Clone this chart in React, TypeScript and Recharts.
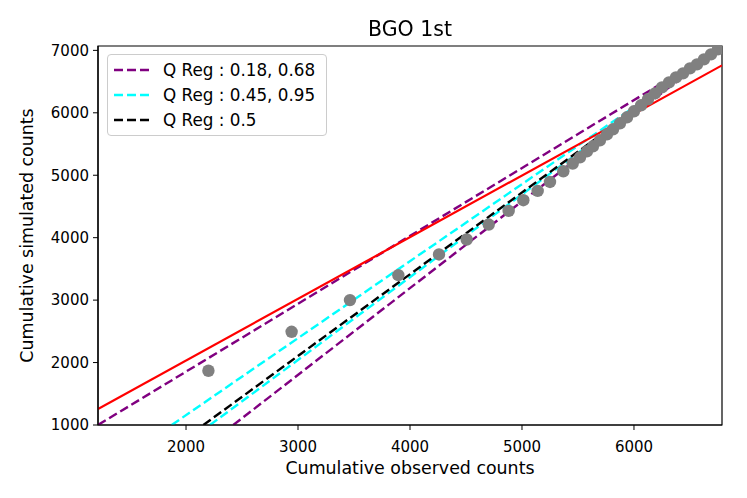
import React from 'react';
import { ComposedChart, Line, Scatter, XAxis, YAxis, ReferenceArea } from 'recharts';

// Gray points: cumulative observed (x) vs cumulative simulated (y)
const observed = [
  2200, 2943, 3464, 3896, 4259, 4506, 4703, 4881, 5012, 5140, 5250, 5369, 5453,
  5518, 5580, 5634, 5696, 5759, 5813, 5875, 5938, 6000, 6063, 6125, 6188, 6250,
  6313, 6375, 6438, 6500, 6563, 6625, 6688, 6750,
];
const simulated = [
  1869, 2493, 3000, 3400, 3731, 3971, 4211, 4429, 4600, 4749, 4893, 5064, 5187,
  5288, 5384, 5464, 5560, 5656, 5736, 5832, 5928, 6024, 6120, 6216, 6312, 6408,
  6488, 6568, 6632, 6712, 6776, 6856, 6936, 7016,
];

// Regression lines (x, y endpoints)
const redFit = [
  [1214, 1256],
  [6786, 6760],
];
const qReg018 = [
  [2422, 1000],
  [6770, 7040],
];
const qReg068 = [
  [1214, 1000],
  [6770, 7040],
];
const qReg045 = [
  [2214, 1000],
  [6770, 7040],
];
const qReg095 = [
  [1872, 1000],
  [6770, 7040],
];
const qReg050 = [
  [2155, 1000],
  [6770, 7040],
];

const xTicks = [2000, 3000, 4000, 5000, 6000];
const yTicks = [1000, 2000, 3000, 4000, 5000, 6000, 7000];
const xDomain = [1214, 6786];
const yDomain = [1000, 7070];

const legendItems = [
  { label: 'Q Reg : 0.18, 0.68', color: '#800080' },
  { label: 'Q Reg : 0.45, 0.95', color: '#00ffff' },
  { label: 'Q Reg : 0.5', color: '#000000' },
];

const toPts = (arr: number[][]) => arr.map(([x, y]) => ({ x, y }));
const points = observed.map((x, i) => ({ x, y: simulated[i] }));

const FONT = '"DejaVu Sans", sans-serif';
const DASH = '9 4';

export default function App() {
  const tickStyle = { fill: '#000', fontSize: 15, fontFamily: FONT };
  return (
    <div style={{ position: 'fixed', left: 0, top: 0, width: 747, height: 498, background: '#fff' }}>
      <ComposedChart
        width={747}
        height={498}
        margin={{ top: 46, right: 25, bottom: 0, left: 0 }}
        style={{ fontFamily: FONT }}
      >
        <XAxis
          xAxisId="main"
          type="number"
          dataKey="x"
          domain={xDomain}
          allowDataOverflow
          ticks={xTicks}
          height={73}
          tick={tickStyle}
          tickSize={5}
          tickMargin={11}
          axisLine={{ stroke: '#000', strokeWidth: 1.2 }}
          tickLine={{ stroke: '#000' }}
          label={{
            content: (props: any) => {
              const vb = props.viewBox || {};
              return (
                <text
                  x={(vb.x ?? 98) + (vb.width ?? 624) / 2}
                  y={474}
                  textAnchor="middle"
                  fontSize={17.4}
                  fontFamily={FONT}
                  fill="#000"
                >
                  Cumulative observed counts
                </text>
              );
            },
          }}
        />
        <YAxis
          yAxisId="main"
          type="number"
          dataKey="y"
          domain={yDomain}
          allowDataOverflow
          ticks={yTicks}
          width={98}
          tick={tickStyle}
          tickSize={5}
          tickMargin={4}
          axisLine={{ stroke: '#000', strokeWidth: 1.2 }}
          tickLine={{ stroke: '#000' }}
          label={{
            content: (props: any) => {
              const vb = props.viewBox || {};
              const cy = (vb.y ?? 46) + (vb.height ?? 379) / 2;
              return (
                <text
                  x={33}
                  y={cy}
                  textAnchor="middle"
                  fontSize={17.4}
                  fontFamily={FONT}
                  fill="#000"
                  transform={`rotate(-90, 33, ${cy})`}
                >
                  Cumulative simulated counts
                </text>
              );
            },
          }}
        />
        <Scatter
          xAxisId="main"
          yAxisId="main"
          data={points}
          dataKey="y"
          fill="#808080"
          isAnimationActive={false}
          shape={(p: any) => <circle cx={p.cx} cy={p.cy} r={6.2} fill="#808080" />}
        />
        <Line xAxisId="main" yAxisId="main" data={toPts(qReg018)} dataKey="y" stroke="#800080" strokeWidth={2.4} strokeDasharray={DASH} dot={false} isAnimationActive={false} />
        <Line xAxisId="main" yAxisId="main" data={toPts(qReg068)} dataKey="y" stroke="#800080" strokeWidth={2.4} strokeDasharray={DASH} dot={false} isAnimationActive={false} />
        <Line xAxisId="main" yAxisId="main" data={toPts(qReg045)} dataKey="y" stroke="#00ffff" strokeWidth={2.4} strokeDasharray={DASH} dot={false} isAnimationActive={false} />
        <Line xAxisId="main" yAxisId="main" data={toPts(qReg095)} dataKey="y" stroke="#00ffff" strokeWidth={2.4} strokeDasharray={DASH} dot={false} isAnimationActive={false} />
        <Line xAxisId="main" yAxisId="main" data={toPts(qReg050)} dataKey="y" stroke="#000000" strokeWidth={2.4} strokeDasharray={DASH} dot={false} isAnimationActive={false} />
        <Line xAxisId="main" yAxisId="main" data={toPts(redFit)} dataKey="y" stroke="#ff0000" strokeWidth={2.2} dot={false} isAnimationActive={false} />
        <ReferenceArea
          xAxisId="main"
          yAxisId="main"
          x1={xDomain[0]}
          x2={xDomain[1]}
          y1={yDomain[0]}
          y2={yDomain[1]}
          fill="none"
          fillOpacity={0}
          stroke="#000"
          strokeWidth={1.2}
          strokeOpacity={1}
          ifOverflow="visible"
        />
      </ComposedChart>
      <div
        style={{
          position: 'absolute',
          left: 0,
          top: 17,
          width: 820,
          textAlign: 'center',
          fontFamily: FONT,
          fontSize: 20.5,
          color: '#000',
          lineHeight: '24px',
        }}
      >
        BGO 1st
      </div>
      <div
        style={{
          position: 'absolute',
          left: 107,
          top: 54,
          width: 218,
          height: 80,
          border: '1px solid #cccccc',
          borderRadius: 4,
          background: 'rgba(255,255,255,0.8)',
          fontFamily: FONT,
          fontSize: 16.8,
          color: '#000',
        }}
      >
        {legendItems.map((it, i) => (
          <div
            key={it.label}
            style={{ position: 'absolute', left: 0, top: 4 + i * 25, height: 22, width: 218 }}
          >
            <svg width={50} height={22} style={{ position: 'absolute', left: 0, top: 0 }}>
              <line x1={6} y1={11} x2={42} y2={11} stroke={it.color} strokeWidth={2.4} strokeDasharray={DASH} />
            </svg>
            <span style={{ position: 'absolute', left: 55, top: 0, lineHeight: '22px', whiteSpace: 'nowrap' }}>
              {it.label}
            </span>
          </div>
        ))}
      </div>
    </div>
  );
}
